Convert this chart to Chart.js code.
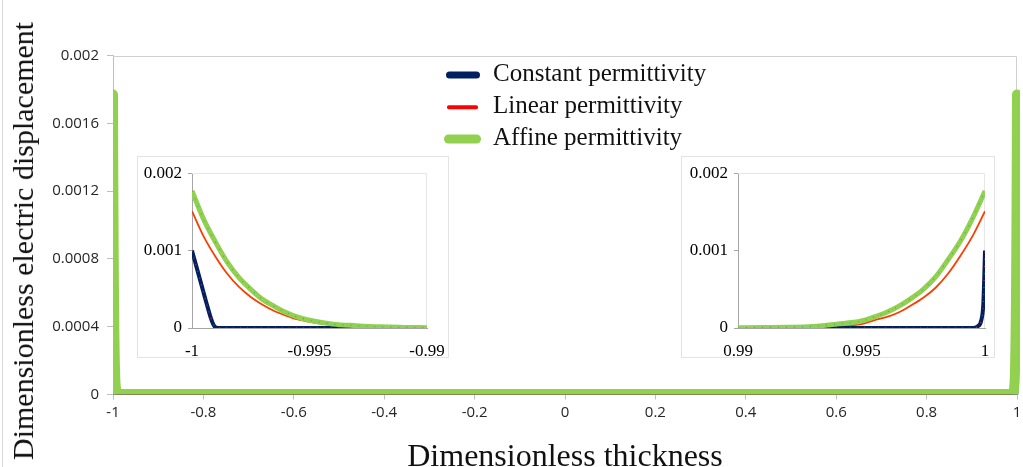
<!DOCTYPE html>
<html>
<head>
<meta charset="utf-8">
<script src="https://cdn.jsdelivr.net/npm/chart.js@4.4.0/dist/chart.umd.min.js"></script>
<style>
  html, body { margin: 0; padding: 0; background: #fff; }
  #wrap { position: relative; width: 1023px; height: 467px; overflow: hidden; }
  #mainChart { position: absolute; left: 0; top: 0; }
  .edge { position: absolute; left: 2px; top: 0; width: 1px; height: 467px; background: #d9d9d9; }
  #yTitle {
    position: absolute; left: 23px; top: 241px;
    transform: translate(-50%, -50%) rotate(-90deg);
    font: 30px/30px "Liberation Serif", serif; color: #111; white-space: nowrap;
  }
  .inset { position: absolute; top: 156px; height: 202px; border: 1px solid #e3e3e3; box-sizing: border-box; background: #fff; }
  .inset canvas { position: absolute; left: 0; top: 0; }
  .lgRow { position: absolute; left: 440px; height: 32px; width: 300px; }
  .lgSw { position: absolute; top: 50%; transform: translateY(-50%); }
  .lgTxt { position: absolute; left: 53px; top: -2px; font: 25px/32px "Liberation Serif", serif; color: #111; white-space: nowrap; }
</style>
</head>
<body>
<div id="wrap">
  <div class="edge"></div>
  <canvas id="mainChart" width="1023" height="467"></canvas>
  <div id="yTitle">Dimensionless electric displacement</div>
  <div id="legend"></div>
  <div class="inset" style="left:137px; width:312px;"><canvas id="leftInset" width="310" height="200"></canvas></div>
  <div class="inset" style="left:681px; width:314px;"><canvas id="rightInset" width="312" height="200"></canvas></div>
</div>
<script>
// series names / colours
const seriesNames = ["Constant permittivity", "Linear permittivity", "Affine permittivity"];
const seriesColors = ["#002060", "#ff0000", "#92d050"];

// left boundary layer (x = -1 .. -0.99)
const leftX = [-1, -0.9995, -0.999, -0.9985, -0.998, -0.9975, -0.997, -0.9965, -0.996, -0.9955, -0.995, -0.994, -0.993, -0.992, -0.991, -0.99];
const affineLeftY = [0.00177, 0.0014, 0.00111, 0.00085, 0.00065, 0.0005, 0.00037, 0.00028, 0.0002, 0.00014, 0.0001, 0.00005, 0.00003, 0.000015, 0.000008, 0.000004];
const linearLeftY = [0.00151, 0.00118, 0.00092, 0.0007, 0.00053, 0.0004, 0.0003, 0.00022, 0.00016, 0.00011, 0.00008, 0.00004, 0.00002, 0.00001, 0.000005, 0.000002];
const constLeftX = [-1, -0.9998, -0.9996, -0.9994, -0.9992, -0.9991, -0.999, -0.9988, -0.998, -0.99];
const constLeftY = [0.001, 0.00078, 0.00056, 0.00034, 0.00013, 0.00005, 0.00001, 0, 0, 0];

// right boundary layer (x = 0.99 .. 1)
const rightX = [0.99, 0.991, 0.992, 0.993, 0.994, 0.995, 0.9955, 0.996, 0.9965, 0.997, 0.9975, 0.998, 0.9985, 0.999, 0.9995, 1];
const affineRightY = [0.000003, 0.000006, 0.00001, 0.00002, 0.00005, 0.00009, 0.00014, 0.0002, 0.00028, 0.00038, 0.0005, 0.00066, 0.00088, 0.00112, 0.00142, 0.00177];
const linearRightY = [0.000001, 0.000003, 0.000006, 0.000012, 0.000025, 0.00005, 0.0001, 0.00014, 0.0002, 0.00029, 0.00039, 0.00052, 0.0007, 0.00093, 0.00119, 0.00151];
const constRightX = [0.99, 0.9995, 0.9997, 0.99985, 0.99993, 0.99997, 1];
const constRightY = [0, 0, 0.00002, 0.0001, 0.0003, 0.00065, 0.001];

// ticks
const mainXTicks = [-1, -0.8, -0.6, -0.4, -0.2, 0, 0.2, 0.4, 0.6, 0.8, 1];
const mainYTicks = [0, 0.0004, 0.0008, 0.0012, 0.0016, 0.002];
const leftInsetXTicks = [-1, -0.995, -0.99];
const rightInsetXTicks = [0.99, 0.995, 1];
const insetYTicks = [0, 0.001, 0.002];

function pts(xs, ys) {
    return xs.map((x, i) => ({ x: x, y: ys[i] }));
}

// light frame on top and right of the plot area
const framePlugin = {
    id: "frame",
    beforeDatasetsDraw(chart, args, opts) {
        const a = chart.chartArea;
        const ctx = chart.ctx;
        ctx.save();
        ctx.strokeStyle = opts.color || "#e0e0e0";
        ctx.lineWidth = 1;
        ctx.beginPath();
        ctx.moveTo(a.left, Math.round(a.top) + 0.5);
        ctx.lineTo(Math.round(a.right) - 0.5, Math.round(a.top) + 0.5);
        ctx.lineTo(Math.round(a.right) - 0.5, a.bottom);
        ctx.stroke();
        ctx.restore();
    }
};

// legend (html text)
const legendEl = document.getElementById("legend");
const swatchHeights = [7, 3.5, 9];
const swatchWidths = [34, 31, 37];
const swatchLefts = [6, 7, 4];
const rowCenters = [75, 107, 139];
seriesNames.forEach((name, i) => {
    const row = document.createElement("div");
    row.className = "lgRow";
    row.style.top = (rowCenters[i] - 16) + "px";
    const sw = document.createElement("span");
    sw.className = "lgSw";
    sw.style.left = swatchLefts[i] + "px";
    sw.style.width = swatchWidths[i] + "px";
    sw.style.height = swatchHeights[i] + "px";
    sw.style.borderRadius = swatchHeights[i] / 2 + "px";
    sw.style.background = seriesColors[i];
    const txt = document.createElement("span");
    txt.className = "lgTxt";
    txt.innerText = name;
    row.appendChild(sw);
    row.appendChild(txt);
    legendEl.appendChild(row);
});

const tickFont = { family: "'Open Sans'", size: 15 };
const serifTick = { family: "'Liberation Serif'", size: 17 };

function noSidePad(s) {
    s.paddingLeft = 0;
    s.paddingRight = 0;
}

new Chart(document.getElementById("mainChart").getContext("2d"), {
    type: "line",
    data: {
        datasets: [
            {
                label: seriesNames[2],
                data: pts(leftX.concat(rightX), affineLeftY.concat(affineRightY)),
                borderColor: seriesColors[2],
                borderWidth: 10,
                borderCapStyle: "round",
                borderJoinStyle: "round",
                pointRadius: 0,
                cubicInterpolationMode: "monotone",
                clip: { left: 0, right: 3, top: 10, bottom: 0 }
            },
            {
                label: seriesNames[0],
                data: pts(constLeftX.concat(constRightX), constLeftY.concat(constRightY)),
                borderColor: seriesColors[0],
                borderWidth: 3,
                pointRadius: 0,
                cubicInterpolationMode: "monotone",
                clip: { left: 0, right: 3, top: 10, bottom: 0 }
            },
            {
                label: seriesNames[1],
                data: pts(leftX.concat(rightX), linearLeftY.concat(linearRightY)),
                borderColor: seriesColors[1],
                borderWidth: 2,
                pointRadius: 0,
                cubicInterpolationMode: "monotone",
                clip: { left: 0, right: 3, top: 10, bottom: 0 }
            }
        ]
    },
    options: {
        responsive: false,
        animation: false,
        events: [],
        layout: { padding: { top: 55.5, right: 6, left: 0, bottom: 0 } },
        plugins: {
            legend: { display: false },
            tooltip: { enabled: false },
            frame: { color: "#d0d0d0" }
        },
        scales: {
            x: {
                type: "linear",
                min: -1,
                max: 1,
                afterBuildTicks: (s) => { s.ticks = mainXTicks.map(v => ({ value: v })); },
                afterFit: (s) => { s.height = 72.5; noSidePad(s); },
                ticks: { font: tickFont, color: "#262626", padding: 4, maxRotation: 0, autoSkip: false, callback: (v) => String(v) },
                grid: { drawOnChartArea: false, tickLength: 5, color: "#bfbfbf" },
                border: { color: "#bfbfbf" },
                title: {
                    display: true,
                    text: "Dimensionless thickness",
                    color: "#111",
                    font: { family: "'Liberation Serif'", size: 32, lineHeight: 0.57 },
                    padding: 0
                }
            },
            y: {
                type: "linear",
                min: 0,
                max: 0.002,
                afterBuildTicks: (s) => { s.ticks = mainYTicks.map(v => ({ value: v })); },
                afterFit: (s) => { s.width = 113; },
                ticks: { font: tickFont, color: "#262626", padding: 8, callback: (v) => String(v) },
                grid: { drawOnChartArea: false, tickLength: 6, color: "#bfbfbf" },
                border: { color: "#bfbfbf" }
            }
        }
    },
    plugins: [framePlugin]
});

function makeInset(id, xs, constXs, affineYs, linearYs, constYs, xTicks, yWidth, padRight) {
    new Chart(document.getElementById(id).getContext("2d"), {
        type: "line",
        data: {
            datasets: [
                {
                    // fine dotted trace running along the affine curve
                    label: seriesNames[2] + " (dots)",
                    data: pts(xs, affineYs),
                    borderColor: "#2fb08a",
                    borderWidth: 1.2,
                    borderDash: [1, 7],
                    pointRadius: 0,
                    cubicInterpolationMode: "monotone"
                },
                {
                    label: seriesNames[2],
                    data: pts(xs, affineYs),
                    borderColor: seriesColors[2],
                    borderWidth: 5,
                    pointRadius: 0,
                    cubicInterpolationMode: "monotone"
                },
                {
                    label: seriesNames[0] + " (dots)",
                    data: pts(constXs, constYs),
                    borderColor: "#e0203a",
                    borderWidth: 1.2,
                    borderDash: [1, 6],
                    pointRadius: 0,
                    cubicInterpolationMode: "monotone"
                },
                {
                    label: seriesNames[0],
                    data: pts(constXs, constYs),
                    borderColor: seriesColors[0],
                    borderWidth: 4,
                    pointRadius: 0,
                    cubicInterpolationMode: "monotone"
                },
                {
                    label: seriesNames[1],
                    data: pts(xs, linearYs),
                    borderColor: "#ff3c00",
                    borderWidth: 1.8,
                    pointRadius: 0,
                    cubicInterpolationMode: "monotone"
                }
            ]
        },
        options: {
            responsive: false,
            animation: false,
            events: [],
            layout: { padding: { top: 11, right: padRight, left: 0, bottom: 0 } },
            plugins: {
                legend: { display: false },
                tooltip: { enabled: false },
                frame: { color: "#e6e6e6" }
            },
            scales: {
                x: {
                    type: "linear",
                    min: xTicks[0],
                    max: xTicks[xTicks.length - 1],
                    afterBuildTicks: (s) => { s.ticks = xTicks.map(v => ({ value: v })); },
                    afterFit: (s) => { s.height = 29; noSidePad(s); },
                    ticks: { font: serifTick, color: "#000", padding: 13, maxRotation: 0, autoSkip: false, callback: (v) => String(v) },
                    grid: { display: false, drawTicks: false },
                    border: { display: true, color: "#a6a6a6" }
                },
                y: {
                    type: "linear",
                    min: 0,
                    max: 0.002,
                    afterBuildTicks: (s) => { s.ticks = insetYTicks.map(v => ({ value: v })); },
                    afterFit: (s) => { s.width = yWidth; },
                    ticks: { font: serifTick, color: "#000", padding: 6, callback: (v) => String(v) },
                    grid: { drawOnChartArea: false, tickLength: 4, color: "#a6a6a6" },
                    border: { color: "#a6a6a6" }
                }
            }
        },
        plugins: [framePlugin]
    });
}

makeInset("leftInset", leftX, constLeftX, affineLeftY, linearLeftY, constLeftY, leftInsetXTicks, 54, 21);
makeInset("rightInset", rightX, constRightX, affineRightY, linearRightY, constRightY, rightInsetXTicks, 56, 9);
</script>
</body>
</html>
